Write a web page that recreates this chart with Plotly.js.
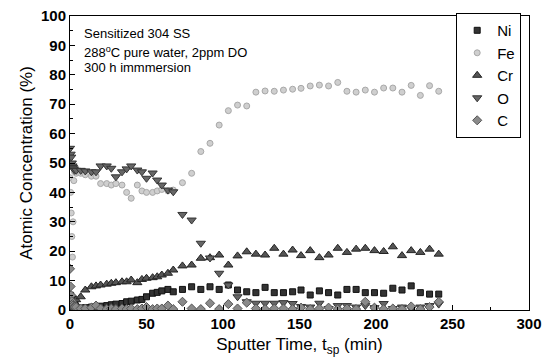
<!DOCTYPE html>
<html>
<head>
<meta charset="utf-8">
<script src="https://cdn.plot.ly/plotly-3.0.1.min.js"></script>
<style>html,body{margin:0;padding:0;background:#fff;}#chart{width:550px;height:362px;}</style>
</head>
<body>
<div id="chart"></div>
<script>
// Sputter time (min)
var time = [0, 0.4, 0.8, 1.2, 1.6, 2.0, 2.5, 3.0, 4, 7, 10, 14, 17, 20, 24, 27, 30, 34, 37, 40, 44, 47, 50, 54, 57, 60, 64,
  67.5, 73.5, 79.5, 85.5, 91.5, 97.5, 103.5, 109.5, 115.5, 121.5, 127.5, 133.5, 139.5, 145.5, 151, 157, 163, 169, 175,
  181, 187, 193, 199, 205, 211, 217, 223, 229, 235, 241];

var ni = [3, 5, 4, 2, 3, 1.5, 2, 1, 1, 0.5, 0.8, 1, 1.2, 1.3, 1.5, 1.8, 2, 2.2, 2.8, 3, 3.4, 3.6, 4.5, 5.7, 6, 6.5, 7,
  6.2, 7, 7.9, 7, 7.9, 7, 8.5, 6.8, 6.2, 5.9, 7.7, 5.9, 5.9, 6.2, 6.8, 5.1, 6.5, 5.9, 5.1,
  7, 7, 5.9, 5.9, 5.7, 7.4, 6.8, 8.2, 5.9, 5.4, 5.4];

var fe = [45, 40, 33, 25, 18, 30, 44, 47, 46.5, 46.5, 46, 45.5, 45.5, 43, 43, 42.5, 43, 42.5, 40, 38, 42.5, 40.5, 40, 40, 40.5, 41, 40.5,
  40.8, 43.3, 46.5, 53.9, 56.7, 62.9, 67.8, 69.7, 69.4, 74.1, 74.5, 74.4, 74.8, 75.1, 75.4, 76.2, 76.5, 76.2, 77.4,
  74.4, 74.1, 74.8, 74.1, 75.5, 75.5, 74.1, 76.4, 73.0, 76.3, 74.4];

var cr = [0.5, 1, 2, 1.5, 3, 2, 3, 2.5, 3.5, 4.5, 6.8, 7.9, 8.2, 8.5, 8.8, 9.1, 9.3, 9.6, 9.6, 10.2, 9.3, 10.4, 10.8, 11, 11.3, 11.9, 12.5,
  13.6, 15, 15.3, 17.6, 17.8, 18.7, 15.3, 18.4, 19.8, 19, 18.7, 21, 19, 20.4, 18.5, 20.2, 17.8, 18.7, 21,
  19.6, 20.7, 21, 20.2, 19.9, 21.5, 18.5, 20.2, 19.6, 20.7, 19];

var ox = [55, 53, 52, 50, 49, 48.5, 48, 47.5, 47.5, 47.5, 47.3, 47, 47, 49, 49, 48.2, 45.3, 47, 48, 49, 47.6, 47, 44.8, 46.6, 44.2, 42.5, 40.8,
  40.2, 32.5, 30.6, 22.7, 17.7, 12.5, 8.5, 4.5, 2.8, 2.3, 2.3, 2.3, 2.5, 2.2, 1.2, 1, 2.3, 0.5, 1.5,
  1.5, 1, 1.5, 0.8, 2.2, 0.5, 1, 0.5, 1, 1.5, 2];

var cc = [14, 8, 5, 3, 2, 1.5, 1, 1, 1, 0.5, 0.5, 0.8, 1.5, 0.5, 0.3, 0.5, 0.3, 0.5, 0.3, 0.5, 0.3, 0.5, 1, 0.3, 0.5, 0.5, 1.5,
  0.3, 2.8, 0.5, 0.3, 2.3, 0.3, 2, 0.5, 2.5, 0.5, 0.3, 0.5, 0.5, 0.3, 0.8, 0.3, 0.5, 0.8, 0.3,
  0.5, 0.3, 2.8, 0.8, 0.3, 0.5, 0.3, 1.2, 0.3, 1, 2.8];

var seriesNames = ['Ni', 'Fe', 'Cr', 'O', 'C'];
var tickVals = [0, 50, 100, 150, 200, 250, 300];

var styles = [
  {symbol: 'square', size: 6, color: '#333333', line: {color: '#111111', width: 1}},
  {symbol: 'circle', size: 6, color: '#cfcfcf', line: {color: '#a8a8a8', width: 1}},
  {symbol: 'triangle-up', size: 8, color: '#555555', line: {color: '#222222', width: 1}},
  {symbol: 'triangle-down', size: 8, color: '#666666', line: {color: '#333333', width: 1}},
  {symbol: 'diamond', size: 7, color: '#8a8a8a', line: {color: '#555555', width: 1}}
];
var ys = [ni, fe, cr, ox, cc];

var traces = ys.map(function (y, i) {
  return {x: time, y: y, name: seriesNames[i], type: 'scatter', mode: 'markers', marker: styles[i], cliponaxis: true};
});

var font = 'Liberation Sans, Arial, sans-serif';
var layout = {
  width: 550, height: 362,
  margin: {l: 70, r: 21, t: 16, b: 52},
  paper_bgcolor: '#ffffff', plot_bgcolor: '#ffffff',
  showlegend: true,
  legend: {x: 0.983, y: 1.01, xanchor: 'right', yanchor: 'top', bordercolor: '#000', borderwidth: 1,
    bgcolor: '#fff', font: {family: font, size: 15, color: '#000'}},
  xaxis: {range: [0, 300], tickvals: tickVals, ticks: 'inside', ticklen: 5, tickcolor: '#000',
    showgrid: false, zeroline: false, showline: true, linecolor: '#000', linewidth: 1, mirror: true,
    minor: {dtick: 25, ticks: 'inside', ticklen: 3, tickcolor: '#000', showgrid: false},
    tickfont: {family: font, size: 15, color: '#000', weight: 'bold'},
    title: {text: 'Sputter Time, t<sub>sp</sub> (min)', font: {family: font, size: 17, color: '#000'}, standoff: 7}},
  yaxis: {range: [0, 100], dtick: 10, ticks: 'inside', ticklen: 5, tickcolor: '#000',
    showgrid: false, zeroline: false, showline: true, linecolor: '#000', linewidth: 1, mirror: true,
    minor: {dtick: 5, ticks: 'inside', ticklen: 3, tickcolor: '#000', showgrid: false},
    tickfont: {family: font, size: 15, color: '#000', weight: 'bold'},
    title: {text: 'Atomic Concentration (%)', font: {family: font, size: 17, color: '#000'}, standoff: 4}},
  annotations: [
    {xref: 'paper', yref: 'paper', x: 0.026, y: 0.94, xanchor: 'left', yanchor: 'middle', showarrow: false,
      text: 'Sensitized 304 SS', font: {family: font, size: 13, color: '#000'}},
    {xref: 'paper', yref: 'paper', x: 0.026, y: 0.878, xanchor: 'left', yanchor: 'middle', showarrow: false,
      text: '288<sup>o</sup>C pure water, 2ppm DO', font: {family: font, size: 13, color: '#000'}},
    {xref: 'paper', yref: 'paper', x: 0.026, y: 0.826, xanchor: 'left', yanchor: 'middle', showarrow: false,
      text: '300 h immmersion', font: {family: font, size: 13, color: '#000'}}
  ]
};

Plotly.newPlot('chart', traces, layout, {staticPlot: true, displayModeBar: false});
</script>
</body>
</html>
